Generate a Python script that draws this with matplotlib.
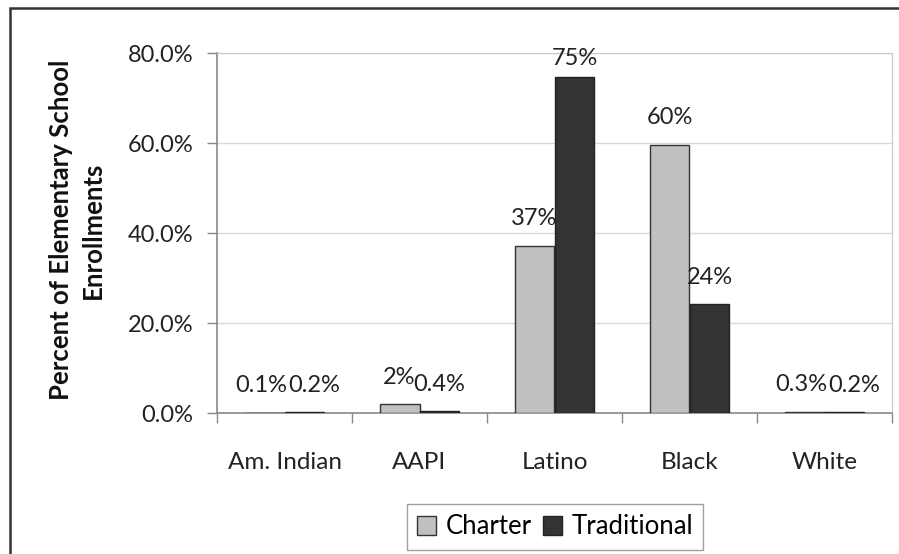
import matplotlib
matplotlib.use("Agg")
import matplotlib.pyplot as plt
import matplotlib.patches as mpatches
import numpy as np

plt.rcParams['font.family'] = ['Lato', 'DejaVu Sans']

groups = ["Am. Indian", "AAPI", "Latino", "Black", "White"]
charter = [0.1, 2.0, 37.2, 59.6, 0.3]
traditional = [0.2, 0.4, 74.7, 24.2, 0.2]
series_names = ["Charter", "Traditional"]
y_ticks = [0, 20, 40, 60, 80]


def fmt(v):
    # small shares keep a decimal, like the original workbook
    return f"{v:.1f}%" if v < 1 else f"{v:.0f}%"


fig = plt.figure(figsize=(8.99, 5.54), dpi=100)
ax = fig.add_axes([217 / 899, 141 / 554, 675 / 899, 360 / 554])

x = np.arange(len(groups))
w = 0.296
b1 = ax.bar(x - w / 2, charter, w, color="#c0c0c0", edgecolor="#333333", linewidth=1.0,
            label=series_names[0], zorder=3)
b2 = ax.bar(x + w / 2, traditional, w, color="#333333", edgecolor="#222222", linewidth=1.0,
            label=series_names[1], zorder=3)

# data labels above each bar, kept inside the plot area;
# when both bars of a group are tiny the labels get pushed apart a little
for i in range(len(groups)):
    both_small = charter[i] < 1 and traditional[i] < 1
    for xi, v, dx in ((x[i] - w / 2, charter[i], -3 if both_small else 0),
                      (x[i] + w / 2, traditional[i], 10 if both_small else 0)):
        ax.annotate(fmt(v), (xi, min(v + 6.0, 78.8)), xytext=(dx, 0),
                    textcoords="offset pixels", ha="center", va="center",
                    fontsize=17, color="#222222", zorder=4)

ax.set_xlim(-0.5, len(groups) - 0.5)
ax.set_ylim(0, 80)
ax.set_yticks(y_ticks)
ax.set_yticklabels([f"{t:.1f}%" for t in y_ticks])
ax.yaxis.grid(True, color="#d9d9d9", linewidth=1.0, zorder=0)
ax.set_axisbelow(True)

# category boundaries get the tick marks, names sit under the centres
ax.set_xticks(np.arange(len(groups) + 1) - 0.5)
ax.set_xticklabels([])
ax.set_xticks(x, minor=True)
ax.set_xticklabels(groups, minor=True)
ax.tick_params(axis="x", which="major", length=7, width=1, color="#888888")
ax.tick_params(axis="x", which="minor", length=0, pad=28, labelsize=17.5, labelcolor="#222222")
ax.tick_params(axis="y", length=7, width=1, color="#888888", pad=10, labelsize=17,
               labelcolor="#222222")

for side in ("top", "right"):
    ax.spines[side].set_color("#c8c8c8")
for side in ("left", "bottom"):
    ax.spines[side].set_color("#888888")
    ax.spines[side].set_linewidth(1.2)

fig.text(77 / 899, (554 - 230) / 554, "Percent of Elementary School\nEnrollments",
         rotation=90, ha="center", va="center", multialignment="center",
         fontsize=18.5, fontweight="bold", linespacing=1.4, color="#111111")

leg = fig.legend(handles=[b1, b2], labels=series_names, loc="center", ncol=2,
                 bbox_to_anchor=(555 / 899, (554 - 527) / 554), fontsize=18.5,
                 frameon=True, fancybox=False, edgecolor="#a0a0a0", framealpha=1,
                 handlelength=0.75, handleheight=0.75, handletextpad=0.35,
                 columnspacing=0.45, borderpad=0.4, borderaxespad=0)
leg.get_frame().set_linewidth(1.0)

# outer chart border, its right and bottom edges fall outside the picture
fig.add_artist(mpatches.Rectangle((10 / 899, -0.05), 1.2, (554 - 8) / 554 + 0.05,
                                  transform=fig.transFigure, fill=False,
                                  edgecolor="#333333", linewidth=1.8, clip_on=False))

fig.savefig("out.png", dpi=100)
